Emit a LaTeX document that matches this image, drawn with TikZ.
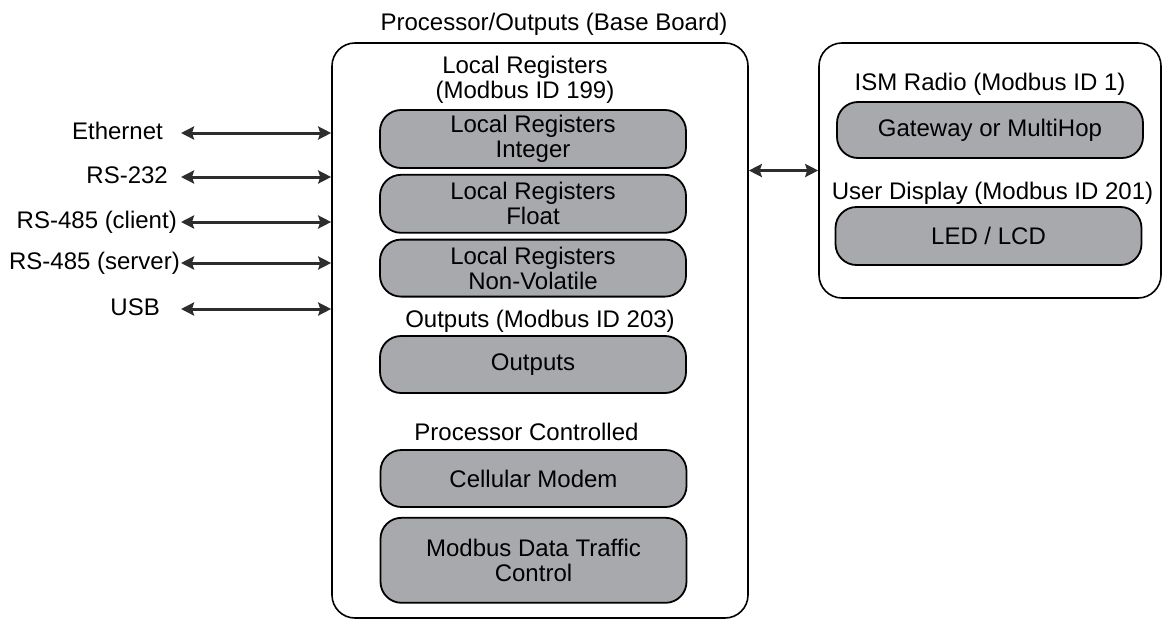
\documentclass[tikz,border=0pt]{standalone}
\usepackage{fontspec}
\setmainfont{Liberation Sans}
\usepackage{xcolor}
\usepackage{tikz}
\usetikzlibrary{positioning, arrows.meta}
\definecolor{pillgray}{RGB}{167,169,172}
\definecolor{arrowgray}{RGB}{45,45,45}

\begin{document}
\begin{tikzpicture}[x=1pt, y=-1pt, font=\fontsize{24}{25}\selectfont,
		pill/.style={draw, line width=1.8pt, fill=pillgray, rounded corners=21pt,
			minimum width=306pt, minimum height=58pt, inner sep=0pt, align=center},
		frame/.style={draw, line width=1.6pt, rounded corners=23pt, inner sep=0pt},
		lbl/.style={inner sep=0pt, text height=17pt, text depth=5pt},
		bus/.style={{Stealth[length=13pt, width=13pt, inset=2pt]}-{Stealth[length=13pt, width=13pt, inset=2pt]},
			draw=arrowgray, line width=3pt}]
		\useasboundingbox (0,0) rectangle (1162,621);
		\node [frame, minimum width=416pt, minimum height=575pt] at (540,330.5) (base) {};
		\node [frame, minimum width=342pt, minimum height=255pt] at (990,170.5) (ism) {};

		\node [lbl] at (554,24.5) (title) {Processor/Outputs (Base Board)};
		\node [align=center, inner sep=0pt] at (525,80) (lreg) {Local Registers\\(Modbus ID 199)};
		\node [pill] at (533,139) (int) {Local Registers\\Integer};
		\node [pill, below=5pt of int] (flt) {Local Registers\\Float};
		\node [pill, minimum height=57pt, below=5pt of flt] (nvol) {Local Registers\\Non-Volatile};
		\node [lbl] at (540,321.5) (outlbl) {Outputs (Modbus ID 203)};
		\node [pill, minimum height=57pt] at (533,364.5) (out) {Outputs};
		\node [lbl] at (526.5,434) (proc) {Processor Controlled};
		\node [pill, minimum height=57pt] at (533.5,478.5) (cell) {Cellular Modem};
		\node [pill, minimum height=85pt, below=9pt of cell] (mdtc) {Modbus Data Traffic\\Control};

		\node [lbl] at (990,84) (radio) {ISM Radio (Modbus ID 1)};
		\node [pill, minimum height=56pt] at (990,130) (gw) {Gateway or MultiHop};
		\node [lbl] at (992.5,193) (disp) {User Display (Modbus ID 201)};
		\node [pill] at (988.5,236) (led) {LED / LCD};

		\node [lbl, anchor=east] at (163,133) (eth) {Ethernet};
		\node [lbl, anchor=east] at (168,177) (rs232) {RS-232};
		\node [lbl, anchor=east] at (177,222) (client) {RS-485 (client)};
		\node [lbl, anchor=east] at (180,263) (server) {RS-485 (server)};
		\node [lbl, anchor=east] at (160,309) (usb) {USB};
		\coordinate (lft) at (181,0);

		\draw [bus] (eth -| lft) -- (eth -| base.west);
		\draw [bus] (rs232 -| lft) -- (rs232 -| base.west);
		\draw [bus] (client -| lft) -- (client -| base.west);
		\draw [bus] (server -| lft) -- (server -| base.west);
		\draw [bus] (usb -| lft) -- (usb -| base.west);
		\draw [bus] (ism.west -| base.east) -- (ism.west);
	\end{tikzpicture}
\end{document}
